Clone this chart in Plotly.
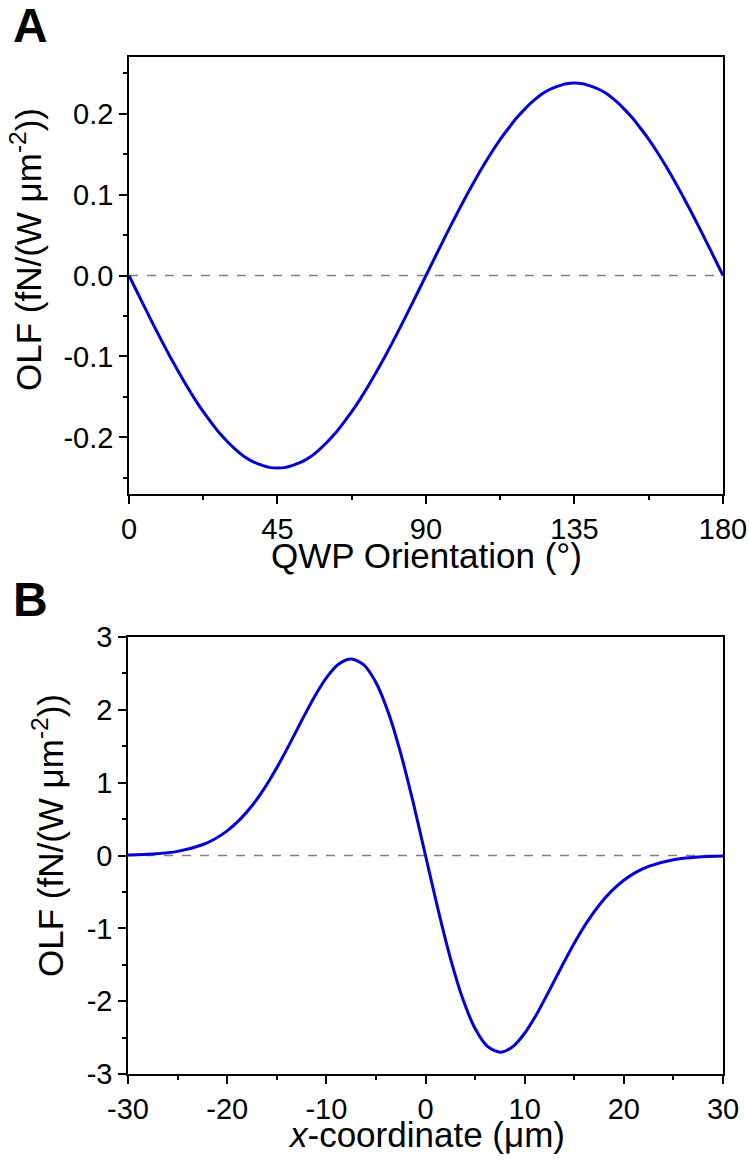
import plotly.graph_objects as go

# Panel A data
qwp_angle = [0, 2.5, 5, 7.5, 10, 12.5, 15, 17.5, 20, 22.5, 25, 27.5, 30, 32.5, 35, 37.5, 40, 42.5, 45,
             47.5, 50, 52.5, 55, 57.5, 60, 62.5, 65, 67.5, 70, 72.5, 75, 77.5, 80, 82.5, 85, 87.5, 90,
             92.5, 95, 97.5, 100, 102.5, 105, 107.5, 110, 112.5, 115, 117.5, 120, 122.5, 125, 127.5, 130, 132.5, 135,
             137.5, 140, 142.5, 145, 147.5, 150, 152.5, 155, 157.5, 160, 162.5, 165, 167.5, 170, 172.5, 175, 177.5, 180]
olf_a = [0.0, -0.0207, -0.0413, -0.0616, -0.0814, -0.1006, -0.119, -0.1365, -0.153, -0.1683, -0.182, -0.195,
         -0.206, -0.2157, -0.224, -0.2299, -0.234, -0.2371, -0.238,
         -0.2371, -0.234, -0.2299, -0.224, -0.2157, -0.206, -0.195, -0.182, -0.1683, -0.153, -0.1365,
         -0.119, -0.1006, -0.0814, -0.0616, -0.0413, -0.0207, 0.0,
         0.0207, 0.0413, 0.0616, 0.0814, 0.1006, 0.119, 0.1365, 0.153, 0.1683, 0.182, 0.195,
         0.206, 0.2157, 0.224, 0.2299, 0.234, 0.2371, 0.238,
         0.2371, 0.234, 0.2299, 0.224, 0.2157, 0.206, 0.195, 0.182, 0.1683, 0.153, 0.1365,
         0.119, 0.1006, 0.0814, 0.0616, 0.0413, 0.0207, 0.0]

# Panel B data
x_coord = [-30, -27.5, -25, -22.5, -21.25, -20, -18.75, -17.5, -16.25, -15, -13.75, -12.5, -11.25, -10,
           -8.75, -7.5, -6.25, -5, -3.75, -2.5, -1.25, 0,
           1.25, 2.5, 3.75, 5, 6.25, 7.5, 8.75, 10, 11.25, 12.5, 13.75, 15, 16.25, 17.5, 18.75, 20,
           21.25, 22.5, 25, 27.5, 30]
olf_b = [0.006, 0.020, 0.057, 0.148, 0.228, 0.339, 0.489, 0.683, 0.922, 1.205, 1.520, 1.850, 2.168, 2.440,
         2.630, 2.70, 2.621, 2.376, 1.964, 1.404, 0.732, 0.0,
         -0.732, -1.404, -1.964, -2.376, -2.621, -2.70, -2.630, -2.440, -2.168, -1.850, -1.520, -1.205,
         -0.922, -0.683, -0.489, -0.339, -0.228, -0.148, -0.057, -0.020, -0.006]

a_xticks = [0, 45, 90, 135, 180]
a_yticks = [-0.2, -0.1, 0.0, 0.1, 0.2]
a_yticktext = ["-0.2", "-0.1", "0.0", "0.1", "0.2"]
b_xticks = [-30, -20, -10, 0, 10, 20, 30]
b_xticktext = ["-30", "-20", "-10", "0", "10", "20", "30"]
b_yticks = [-3, -2, -1, 0, 1, 2, 3]
b_yticktext = ["-3", "-2", "-1", "0", "1", "2", "3"]

a_xtitle = "QWP Orientation (\u00b0)"
b_xtitle = "<i>x</i>-coordinate (\u03bcm)"
ytitle = "OLF (fN/(W \u03bcm<sup>-2</sup>))"

FONT = "Liberation Sans, Arial, sans-serif"
LINE = "#0000dd"
W, H = 749, 1164


def minor(d):
    return dict(ticks="outside", ticklen=4, tickwidth=1.5, tickcolor="black", dtick=d, tick0=0, showgrid=False)


axis_common = dict(showline=True, linecolor="black", linewidth=1.5, mirror=True, ticks="outside",
                   ticklen=8, tickwidth=1.5, tickcolor="black", showgrid=False, zeroline=False,
                   automargin=False,
                   tickfont=dict(family=FONT, size=29, color="black"))

fig = go.Figure()
fig.add_trace(go.Scatter(x=qwp_angle, y=olf_a, mode="lines", line=dict(color=LINE, width=3, shape="spline", smoothing=0.8),
                         xaxis="x", yaxis="y", showlegend=False))
fig.add_trace(go.Scatter(x=x_coord, y=olf_b, mode="lines", line=dict(color=LINE, width=3, shape="spline", smoothing=0.8),
                         xaxis="x2", yaxis="y2", showlegend=False))


def ann(text, px, py, size, angle=0):
    return dict(text=text, xref="paper", yref="paper", x=px / W, y=1 - py / H, xanchor="center", yanchor="middle",
                textangle=angle, showarrow=False, font=dict(size=size, family=FONT, color="black"))


fig.update_layout(
    template="none",
    width=W, height=H, margin=dict(l=0, r=0, t=0, b=0),
    paper_bgcolor="white", plot_bgcolor="white",
    font=dict(family=FONT, color="black"),
    xaxis=dict(domain=[0.1722, 0.9653], anchor="y", range=[0, 180], tickvals=a_xticks,
               minor=minor(22.5), **axis_common),
    yaxis=dict(domain=[0.5756, 0.9510], anchor="x", range=[-0.27, 0.27], tickvals=a_yticks, ticktext=a_yticktext,
               minor=minor(0.05), **axis_common),
    xaxis2=dict(domain=[0.1709, 0.9653], anchor="y2", range=[-30, 30], tickvals=b_xticks, ticktext=b_xticktext,
                minor=minor(5), **axis_common),
    yaxis2=dict(domain=[0.0773, 0.4527], anchor="x2", range=[-3, 3], tickvals=b_yticks, ticktext=b_yticktext,
                minor=minor(0.5), **axis_common),
    shapes=[
        dict(type="line", xref="x domain", yref="y", x0=0, x1=1, y0=0, y1=0,
             line=dict(color="gray", width=1.5, dash="dash"), layer="below"),
        dict(type="line", xref="x2 domain", yref="y2", x0=0, x1=1, y0=0, y1=0,
             line=dict(color="gray", width=1.5, dash="dash"), layer="below"),
    ],
    annotations=[
        ann("<b>A</b>", 30, 25, 48),
        ann("<b>B</b>", 30, 600, 48),
        ann(a_xtitle, 426, 555, 35),
        ann(b_xtitle, 426, 1134, 35),
        ann(ytitle, 26, 250, 35, -90),
        ann(ytitle, 48, 836, 35, -90),
    ],
)

fig.write_html("out.html")
